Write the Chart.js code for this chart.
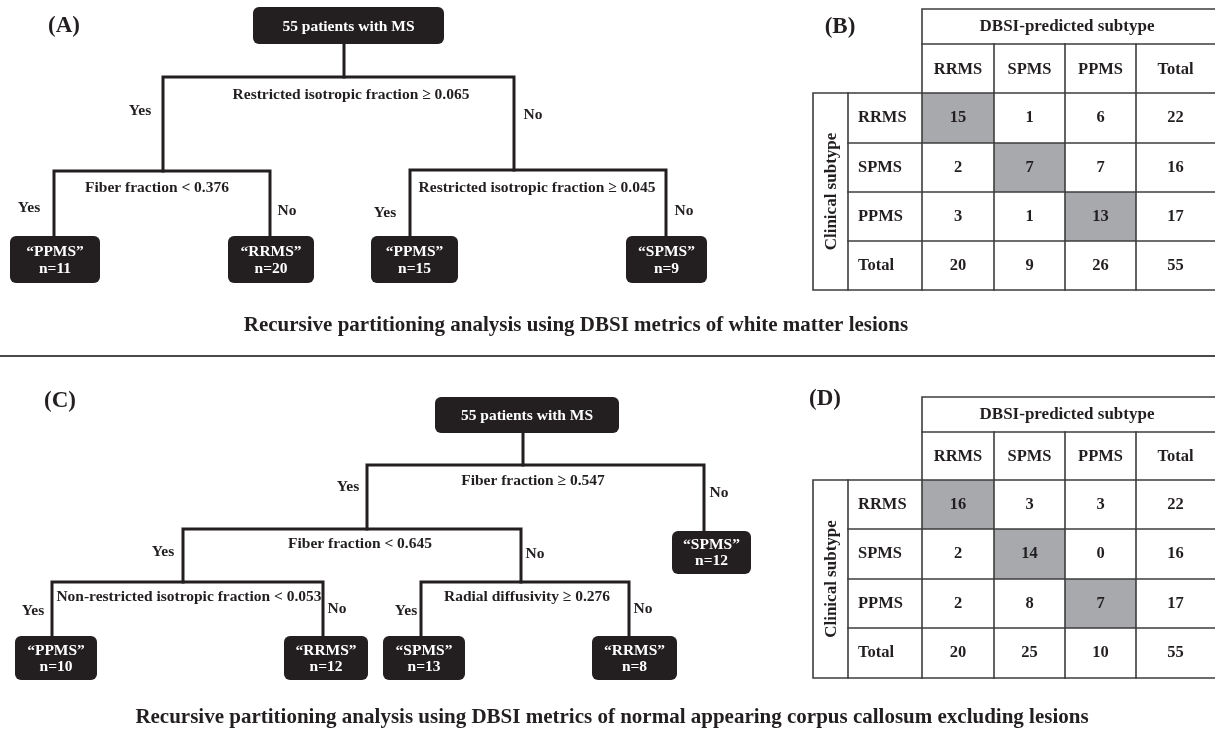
<!DOCTYPE html>
<html><head><meta charset="utf-8">
<script src="https://cdn.jsdelivr.net/npm/chart.js@4.4.1/dist/chart.umd.min.js"></script>
<style>html,body{margin:0;padding:0;background:#fff}#wrap{width:1215px;height:732px;position:relative}</style>
</head><body><div id="wrap"><canvas id="c"></canvas></div>
<script>
// ---------------- data ----------------
const panelLabels = ["(A)", "(B)", "(C)", "(D)"];
const rootLabel = "55 patients with MS";
const treeA_splits = ["Restricted isotropic fraction \u2265 0.065", "Fiber fraction < 0.376", "Restricted isotropic fraction \u2265 0.045"];
const treeA_leafClass = ["PPMS", "RRMS", "PPMS", "SPMS"];
const treeA_leafN = [11, 20, 15, 9];
const treeC_splits = ["Fiber fraction \u2265 0.547", "Fiber fraction < 0.645", "Non-restricted isotropic fraction < 0.053", "Radial diffusivity \u2265 0.276"];
const treeC_leafClass = ["SPMS", "PPMS", "RRMS", "SPMS", "RRMS"];
const treeC_leafN = [12, 10, 12, 13, 8];
const predictedHeader = "DBSI-predicted subtype";
const clinicalHeader = "Clinical subtype";
const predictedSubtypes = ["RRMS", "SPMS", "PPMS", "Total"];
const clinicalSubtypes = ["RRMS", "SPMS", "PPMS", "Total"];
const matrixB_RRMS = [15, 1, 6, 22];
const matrixB_SPMS = [2, 7, 7, 16];
const matrixB_PPMS = [3, 1, 13, 17];
const matrixB_Total = [20, 9, 26, 55];
const matrixD_RRMS = [16, 3, 3, 22];
const matrixD_SPMS = [2, 14, 0, 16];
const matrixD_PPMS = [2, 8, 7, 17];
const matrixD_Total = [20, 25, 10, 55];
const captionTop = "Recursive partitioning analysis using DBSI metrics of white matter lesions";
const captionBottom = "Recursive partitioning analysis using DBSI metrics of normal appearing corpus callosum excluding lesions";

// ---------------- layout (positions in a 1215 x 732 scale space) ----------------
const L = {
  panelLabelPos: [[64, 26], [840, 27], [60, 401], [825, 399]],
  treeA: {
    root: [253, 444, 7, 44], stemX: 344,
    splits: [
      {bar: 77, xl: 163, xr: 514, yl: 171, yr: 170, lab: [351, 95], yes: [140, 111], no: [533, 115]},
      {bar: 171, xl: 54, xr: 270, yl: 236, yr: 236, lab: [157, 188], yes: [29, 208], no: [287, 211]},
      {bar: 170, xl: 410, xr: 666, yl: 236, yr: 236, lab: [537, 188], yes: [385, 213], no: [684, 211]}
    ],
    leaves: [[10, 100, 236, 283], [228, 314, 236, 283], [371, 458, 236, 283], [626, 707, 236, 283]]
  },
  treeC: {
    root: [435, 619, 397, 433], stemX: 523,
    splits: [
      {bar: 465, xl: 367, xr: 704, yl: 529, yr: 531, lab: [533, 481], yes: [348, 487], no: [719, 493]},
      {bar: 529, xl: 183, xr: 521, yl: 582, yr: 582, lab: [360, 544], yes: [163, 552], no: [535, 554]},
      {bar: 582, xl: 52, xr: 323, yl: 636, yr: 636, lab: [189, 597], yes: [33, 611], no: [337, 609]},
      {bar: 582, xl: 421, xr: 629, yl: 636, yr: 636, lab: [527, 597], yes: [406, 611], no: [643, 609]}
    ],
    leaves: [[672, 751, 531, 574], [15, 97, 636, 680], [284, 368, 636, 680], [383, 465, 636, 680], [592, 677, 636, 680]]
  },
  tableCols: [813, 848, 922, 994, 1065, 1136, 1216],
  tableB_rows: [9, 44, 93, 143, 192, 241, 290],
  tableD_rows: [397, 432, 480, 529, 579, 628, 678],
  captionTop: [576, 326], captionBottom: [612, 718], divider: 356
};

const INK = '#231f20';
const TLINE = '#3c3c3c';
const lineSets = [];
function addLine(pts, color, width) {
  lineSets.push({
    type: 'scatter', showLine: true, data: pts.map(p => ({x: p[0], y: p[1]})),
    borderColor: color, borderWidth: width, pointRadius: 0, fill: false,
    borderJoinStyle: 'miter', borderCapStyle: 'square', tension: 0, clip: false
  });
}
function treeLines(t) {
  addLine([[t.stemX, t.root[3]], [t.stemX, t.splits[0].bar]], INK, 3);
  t.splits.forEach(s => addLine([[s.xl, s.yl], [s.xl, s.bar], [s.xr, s.bar], [s.xr, s.yr]], INK, 3));
}
treeLines(L.treeA); treeLines(L.treeC);
function tableLines(rows) {
  const c = L.tableCols;
  addLine([[c[2], rows[6]], [c[2], rows[0]], [c[6], rows[0]]], TLINE, 1.6);
  addLine([[c[2], rows[1]], [c[6], rows[1]]], TLINE, 1.6);
  for (let i = 3; i < 6; i++) addLine([[c[i], rows[1]], [c[i], rows[6]]], TLINE, 1.6);
  addLine([[c[6], rows[2]], [c[0], rows[2]], [c[0], rows[6]], [c[6], rows[6]]], TLINE, 1.6);
  addLine([[c[1], rows[2]], [c[1], rows[6]]], TLINE, 1.6);
  for (let r = 3; r < 6; r++) addLine([[c[1], rows[r]], [c[6], rows[r]]], TLINE, 1.6);
}
tableLines(L.tableB_rows); tableLines(L.tableD_rows);
addLine([[0, L.divider], [1215, L.divider]], '#4a4a4a', 2.2);

const FONT = '"Liberation Serif", "Times New Roman", serif';

const drawPlugin = {
  id: 'diagram',
  beforeDatasetsDraw(chart) {
    const ctx = chart.ctx, X = v => chart.scales.x.getPixelForValue(v), Y = v => chart.scales.y.getPixelForValue(v);
    const c = L.tableCols;
    [L.tableB_rows, L.tableD_rows].forEach(rows => {
      ctx.fillStyle = '#a7a9ac';
      for (let i = 0; i < 3; i++) {
        ctx.fillRect(X(c[2 + i]), Y(rows[2 + i]), X(c[3 + i]) - X(c[2 + i]), Y(rows[3 + i]) - Y(rows[2 + i]));
      }
    });
  },
  afterDatasetsDraw(chart) {
    const ctx = chart.ctx, X = v => chart.scales.x.getPixelForValue(v), Y = v => chart.scales.y.getPixelForValue(v);
    function txt(s, x, y, size, color, align, rot) {
      ctx.save();
      ctx.font = 'bold ' + size + 'px ' + FONT;
      ctx.fillStyle = color || INK;
      ctx.textAlign = align || 'center';
      ctx.textBaseline = 'middle';
      ctx.translate(X(x), Y(y));
      if (rot) ctx.rotate(rot);
      ctx.fillText(s, 0, 0);
      ctx.restore();
    }
    function box(b) {
      ctx.fillStyle = INK;
      ctx.beginPath();
      ctx.roundRect(X(b[0]), Y(b[2]), X(b[1]) - X(b[0]), Y(b[3]) - Y(b[2]), 6);
      ctx.fill();
    }
    panelLabels.forEach((p, i) => txt(p, L.panelLabelPos[i][0], L.panelLabelPos[i][1], 23));
    function tree(t, splits, leafClass, leafN) {
      box(t.root);
      txt(rootLabel, (t.root[0] + t.root[1]) / 2, (t.root[2] + t.root[3]) / 2 + 1, 15.5, '#fff');
      t.splits.forEach((s, i) => {
        txt(splits[i], s.lab[0], s.lab[1], 15.5);
        txt('Yes', s.yes[0], s.yes[1], 15.5);
        txt('No', s.no[0], s.no[1], 15.5);
      });
      t.leaves.forEach((b, i) => {
        box(b);
        const cx = (b[0] + b[1]) / 2, h = b[3] - b[2];
        txt('\u201C' + leafClass[i] + '\u201D', cx, b[2] + h * 0.33, 15.5, '#fff');
        txt('n=' + leafN[i], cx, b[2] + h * 0.7, 15.5, '#fff');
      });
    }
    tree(L.treeA, treeA_splits, treeA_leafClass, treeA_leafN);
    tree(L.treeC, treeC_splits, treeC_leafClass, treeC_leafN);
    function table(rows, mat) {
      const c = L.tableCols;
      const mid = (a, b) => (a + b) / 2;
      txt(predictedHeader, mid(c[2], 1212), mid(rows[0], rows[1]), 17);
      predictedSubtypes.forEach((s, i) => txt(s, mid(c[2 + i], i === 3 ? 1215 : c[3 + i]), mid(rows[1], rows[2]) + 1, 16.5));
      txt(clinicalHeader, mid(c[0], c[1]) + 1, mid(rows[2], rows[6]), 17, INK, 'center', -Math.PI / 2);
      clinicalSubtypes.forEach((s, r) => {
        txt(s, c[1] + 10, mid(rows[2 + r], rows[3 + r]), 16.5, INK, 'left');
        mat[r].forEach((v, j) => txt(String(v), mid(c[2 + j], j === 3 ? 1215 : c[3 + j]), mid(rows[2 + r], rows[3 + r]), 16.5));
      });
    }
    table(L.tableB_rows, [matrixB_RRMS, matrixB_SPMS, matrixB_PPMS, matrixB_Total]);
    table(L.tableD_rows, [matrixD_RRMS, matrixD_SPMS, matrixD_PPMS, matrixD_Total]);
    txt(captionTop, L.captionTop[0], L.captionTop[1], 21);
    txt(captionBottom, L.captionBottom[0], L.captionBottom[1], 21);
  }
};

new Chart(document.getElementById('c'), {
  type: 'scatter',
  data: {datasets: lineSets},
  options: {
    responsive: true, maintainAspectRatio: false, animation: false,
    layout: {padding: 0},
    plugins: {legend: {display: false}, tooltip: {enabled: false}},
    events: [],
    scales: {
      x: {type: 'linear', min: 0, max: 1215, display: false},
      y: {type: 'linear', min: 0, max: 732, reverse: true, display: false}
    }
  },
  plugins: [drawPlugin]
});
</script>
</body></html>
